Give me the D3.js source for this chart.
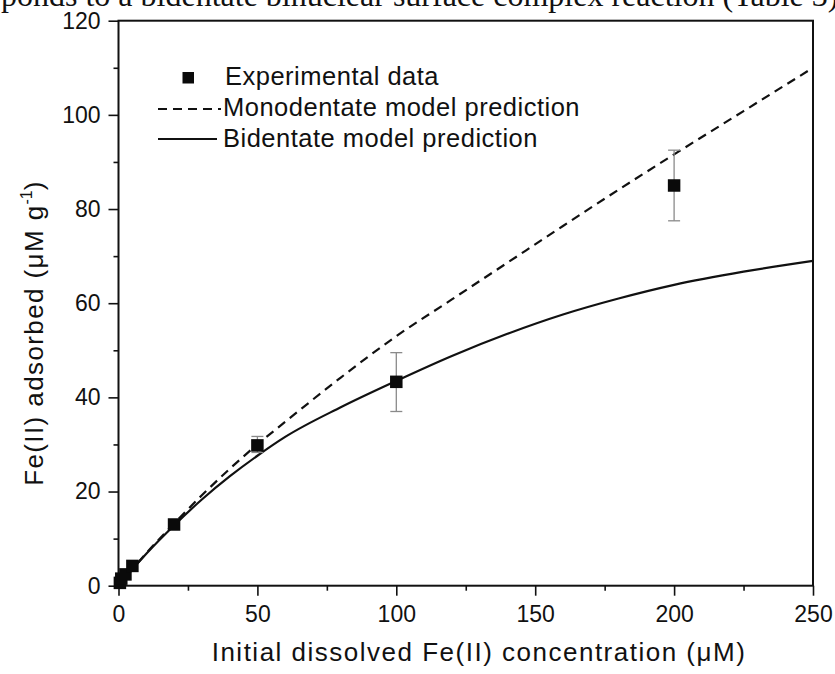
<!DOCTYPE html>
<html>
<head>
<meta charset="utf-8">
<script src="https://cdn.jsdelivr.net/npm/d3@7/dist/d3.min.js"></script>
<style>
  html, body { margin: 0; padding: 0; background: #fff; }
  svg { display: block; }
  text { font-family: "Liberation Sans", Arial, sans-serif; fill: #111; }
</style>
</head>
<body>
<svg id="chart" width="835" height="674"></svg>
<script>
// Experimental Fe(II) sorption data (initial concentration, µM → adsorbed, µM g-1)
const expConc     = [0.5, 1, 2.5, 5, 20, 50, 100, 200];
const expAdsorbed = [0.6, 1.5, 2.4, 4.2, 13, 29.8, 43.3, 85];
const expErrLow   = [null, null, null, null, null, 28.3, 37.0, 77.5];
const expErrHigh  = [null, null, null, null, null, 31.7, 49.5, 92.5];

// Surface complexation model predictions
const modelConc   = [0, 5, 10, 20, 30, 40, 50, 60, 80, 100, 120, 140, 160, 180, 200, 225, 250];
const monodentate = [0, 3.5, 6.9, 13.2, 19.2, 24.8, 30, 34.8, 44.2, 53, 60.8, 68.6, 76.4, 84.1, 91.6, 100.8, 110];
const bidentate   = [0, 3.5, 6.8, 12.8, 18.3, 23.2, 27.6, 31.6, 37.9, 43.5, 48.8, 53.5, 57.6, 61.0, 63.9, 66.7, 69];

// Axis ticks
const xTicks = [0, 50, 100, 150, 200, 250];
const xMinor = [25, 75, 125, 175, 225];
const yTicks = [0, 20, 40, 60, 80, 100, 120];
const yMinor = [10, 30, 50, 70, 90, 110];

const svg = d3.select("#chart");
const plot = { left: 118.5, right: 813, top: 20.7, bottom: 585.7 };

const x = d3.scaleLinear().domain([0, 250]).range([plot.left, plot.right]);
const y = d3.scaleLinear().domain([0, 120]).range([plot.bottom, plot.top]);

// Running text from the surrounding page, clipped by the top edge
svg.append("text")
  .attr("x", 1).attr("y", 6)
  .style("font-family", "'Liberation Serif', 'Times New Roman', serif")
  .style("font-size", "32px")
  .text("ponds to a bidentate binuclear surface complex reaction (Table 3).");

// Frame
svg.append("rect")
  .attr("x", plot.left).attr("y", plot.top)
  .attr("width", plot.right - plot.left).attr("height", plot.bottom - plot.top)
  .attr("fill", "none").attr("stroke", "#111").attr("stroke-width", 2);

// Axes
function styleAxis(g) {
  g.select(".domain").remove();
  g.selectAll(".tick line").attr("stroke", "#111").attr("stroke-width", 1.6);
  g.selectAll(".tick text").style("font-size", "23px").attr("fill", "#111");
}

svg.append("g")
  .attr("transform", `translate(0,${plot.bottom})`)
  .call(d3.axisBottom(x).tickValues(xTicks).tickSize(10).tickPadding(10).tickFormat(d3.format("d")))
  .call(styleAxis);
svg.append("g")
  .attr("transform", `translate(0,${plot.bottom})`)
  .call(d3.axisBottom(x).tickValues(xMinor).tickSize(5).tickFormat(""))
  .call(styleAxis);

svg.append("g")
  .attr("transform", `translate(${plot.left},0)`)
  .call(d3.axisLeft(y).tickValues(yTicks).tickSize(10).tickPadding(8).tickFormat(d3.format("d")))
  .call(styleAxis);
svg.append("g")
  .attr("transform", `translate(${plot.left},0)`)
  .call(d3.axisLeft(y).tickValues(yMinor).tickSize(5).tickFormat(""))
  .call(styleAxis);

// Axis titles
svg.append("text")
  .attr("x", 479).attr("y", 661)
  .attr("text-anchor", "middle")
  .style("font-size", "26px")
  .style("letter-spacing", "1.5px")
  .text("Initial dissolved Fe(II) concentration (\u03BCM)");

const yTitle = svg.append("text")
  .attr("transform", "translate(43,333) rotate(-90)")
  .attr("text-anchor", "middle")
  .style("font-size", "26px")
  .style("letter-spacing", "1.4px");
yTitle.append("tspan").text("Fe(II) adsorbed (\u03BCM g");
yTitle.append("tspan").attr("dy", -11).style("font-size", "16px").style("letter-spacing", "0px").text("-1");
yTitle.append("tspan").attr("dy", 11).text(")");

// Model curves
const mono = modelConc.map((c, i) => [c, monodentate[i]]);
const bi = modelConc.map((c, i) => [c, bidentate[i]]);
const line = d3.line().x(d => x(d[0])).y(d => y(d[1])).curve(d3.curveMonotoneX);

svg.append("path").datum(mono)
  .attr("d", line).attr("fill", "none")
  .attr("stroke", "#111").attr("stroke-width", 2.2)
  .attr("stroke-dasharray", "9,6");
svg.append("path").datum(bi)
  .attr("d", line).attr("fill", "none")
  .attr("stroke", "#111").attr("stroke-width", 2.2);

// Error bars
const pts = expConc.map((c, i) => ({ c, v: expAdsorbed[i], lo: expErrLow[i], hi: expErrHigh[i] }));
const err = svg.append("g").attr("stroke", "#8a8a8a").attr("stroke-width", 1.3);
pts.filter(d => d.lo != null).forEach(d => {
  err.append("line").attr("x1", x(d.c)).attr("x2", x(d.c)).attr("y1", y(d.lo)).attr("y2", y(d.hi));
  err.append("line").attr("x1", x(d.c) - 6).attr("x2", x(d.c) + 6).attr("y1", y(d.lo)).attr("y2", y(d.lo));
  err.append("line").attr("x1", x(d.c) - 6).attr("x2", x(d.c) + 6).attr("y1", y(d.hi)).attr("y2", y(d.hi));
});

// Experimental markers
const sq = 12.5;
svg.append("g").selectAll("rect").data(pts).join("rect")
  .attr("x", d => x(d.c) - sq / 2).attr("y", d => y(d.v) - sq / 2)
  .attr("width", sq).attr("height", sq).attr("fill", "#0a0a0a");

// Legend
const legend = svg.append("g");
legend.append("rect").attr("x", 182.5).attr("y", 72).attr("width", 11.5).attr("height", 11.5).attr("fill", "#0a0a0a");
legend.append("line").attr("x1", 158).attr("x2", 221).attr("y1", 109).attr("y2", 109)
  .attr("stroke", "#111").attr("stroke-width", 2).attr("stroke-dasharray", "9,6");
legend.append("line").attr("x1", 158).attr("x2", 217).attr("y1", 139).attr("y2", 139)
  .attr("stroke", "#111").attr("stroke-width", 2);
const legendLabels = ["Experimental data", "Monodentate model prediction", "Bidentate model prediction"];
legend.selectAll("text.lab").data(legendLabels).join("text")
  .attr("class", "lab")
  .attr("x", (d, i) => i === 0 ? 225 : 223)
  .attr("y", (d, i) => 85 + i * 31)
  .style("font-size", "25.5px")
  .style("letter-spacing", "0.5px")
  .text(d => d);
</script>
</body>
</html>
